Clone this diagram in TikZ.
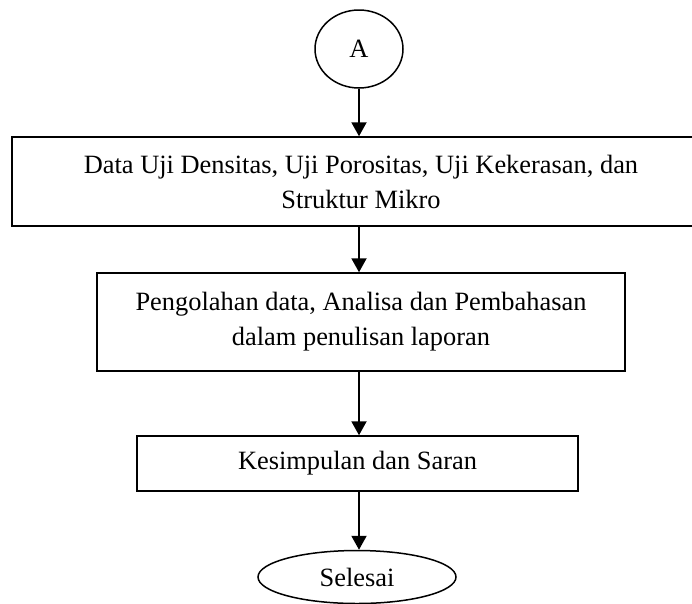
\documentclass[tikz,border=0pt]{standalone}
\usepackage{fontspec}
\setmainfont{Liberation Serif}
\usetikzlibrary{positioning}
\usetikzlibrary{arrows.meta}
\usetikzlibrary{shapes.geometric}

\begin{document}
\begin{tikzpicture}[x=1pt,y=1pt,
	box/.style={draw, line width=1.5pt, rectangle, align=center, inner sep=0pt},
	term/.style={draw, line width=1.5pt, ellipse, inner sep=0pt},
	panah/.style={line width=2pt, -{Triangle[length=14pt,width=15pt]}}]
	\useasboundingbox (0,0) rectangle (692,-603);
	\fontsize{26.4}{35}\selectfont

	% Node utama
	\node[term, minimum width=88, minimum height=78] (A) at (359,-49) {A};
	\node[box, minimum width=698, minimum height=89] (data) at (361,-181.5) {Data Uji Densitas, Uji Porositas, Uji Kekerasan, dan\\Struktur Mikro};
	\node[box, minimum width=528, minimum height=98] (olah) at (361,-322) {Pengolahan data, Analisa dan Pembahasan\\dalam penulisan laporan};
	\node[box, minimum width=441, minimum height=55] (simpul) at (357.5,-463.5) {Kesimpulan dan Saran};
	\node[term, minimum width=198, minimum height=53] (selesai) at (357,-577) {Selesai};

	% Panah antar node
	\draw[panah] (A) -- (A |- data.north);
	\draw[panah] (A |- data.south) -- (A |- olah.north);
	\draw[panah] (A |- olah.south) -- (A |- simpul.north);
	\draw[panah] (A |- simpul.south) -- (A |- selesai.north);

\end{tikzpicture}
\end{document}
